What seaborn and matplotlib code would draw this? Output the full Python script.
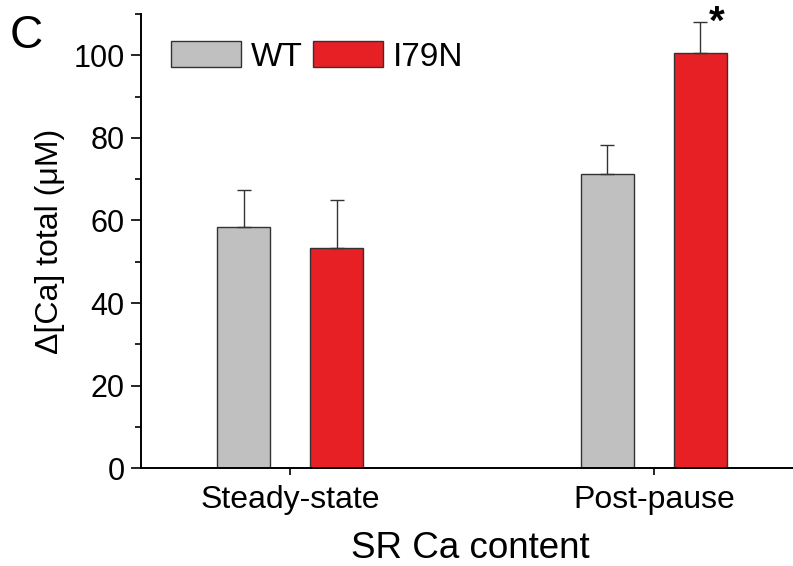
import numpy as np
import pandas as pd
import matplotlib
matplotlib.use("Agg")
import matplotlib.pyplot as plt
import seaborn as sns
from matplotlib.ticker import MultipleLocator

# data
conditions = ["Steady-state", "Post-pause"]
groups = ["WT", "I79N"]
wt_mean = [58.3, 71.2]
wt_err = [9.0, 7.2]
mut_mean = [53.3, 100.6]
mut_err = [11.6, 7.5]
colors = {"WT": "#c0c0c0", "I79N": "#e62024"}

df = pd.DataFrame({
    "condition": conditions * 2,
    "group": ["WT"] * 2 + ["I79N"] * 2,
    "value": wt_mean + mut_mean,
    "err": wt_err + mut_err,
})

sns.set_theme(style="ticks")
plt.rcParams['font.family'] = ['Liberation Sans', 'DejaVu Sans']
plt.rcParams['text.color'] = 'black'
plt.rcParams['axes.labelcolor'] = 'black'
plt.rcParams['xtick.color'] = 'black'
plt.rcParams['ytick.color'] = 'black'

fig = plt.figure(figsize=(7.93, 5.66), dpi=100)
ax = fig.add_axes([0.178, 0.173, 0.83, 0.802])

total_w = 0.512
sns.barplot(data=df, x="condition", y="value", hue="group", order=conditions,
            hue_order=groups, palette=colors, width=total_w, gap=0.43,
            saturation=1, edgecolor="#333333", linewidth=1.0, errorbar=None,
            ax=ax, legend=True)

# upward-only error bars at the dodged bar centres
off = total_w / 4
for i in range(len(conditions)):
    for j, (m, e) in enumerate([(wt_mean[i], wt_err[i]), (mut_mean[i], mut_err[i])]):
        xc = i + (-off if j == 0 else off)
        ax.errorbar(xc, m, yerr=[[0], [e]], fmt="none", ecolor="#333333",
                    elinewidth=1.0, capsize=5, capthick=1.0, zorder=1)

# significance star over I79N post-pause
ax.text(1 + off + 0.045, 112.6, "*", fontsize=29,
        fontweight="bold", ha="center", va="top", clip_on=False)

ax.set_ylim(0, 110)
ax.set_xlim(-0.41, 1.40)
ax.yaxis.set_major_locator(MultipleLocator(20))
ax.yaxis.set_minor_locator(MultipleLocator(10))
ax.tick_params(axis="y", which="major", length=7, width=1.2, labelsize=22, pad=5)
ax.tick_params(axis="y", which="minor", length=4, width=1.2)
ax.tick_params(axis="x", length=5, width=1.2, labelsize=23, pad=7)
for s in ["top", "right"]:
    ax.spines[s].set_visible(False)
for s in ["left", "bottom"]:
    ax.spines[s].set_color("black")
    ax.spines[s].set_linewidth(1.4)

ax.set_xlabel("SR Ca content", fontsize=26.5, labelpad=12)
ax.set_ylabel("Δ[Ca] total (μM)", fontsize=23, labelpad=6)

ax.legend(title=None, loc="upper left", bbox_to_anchor=(0.045, 0.94),
          ncol=2, frameon=False, fontsize=24, handlelength=2.1,
          handleheight=0.8, handletextpad=0.3, columnspacing=0.3,
          borderaxespad=0, borderpad=0)

fig.text(0.012, 0.975, "C", fontsize=33, ha="left", va="top")

plt.savefig("out.png", dpi=100)
